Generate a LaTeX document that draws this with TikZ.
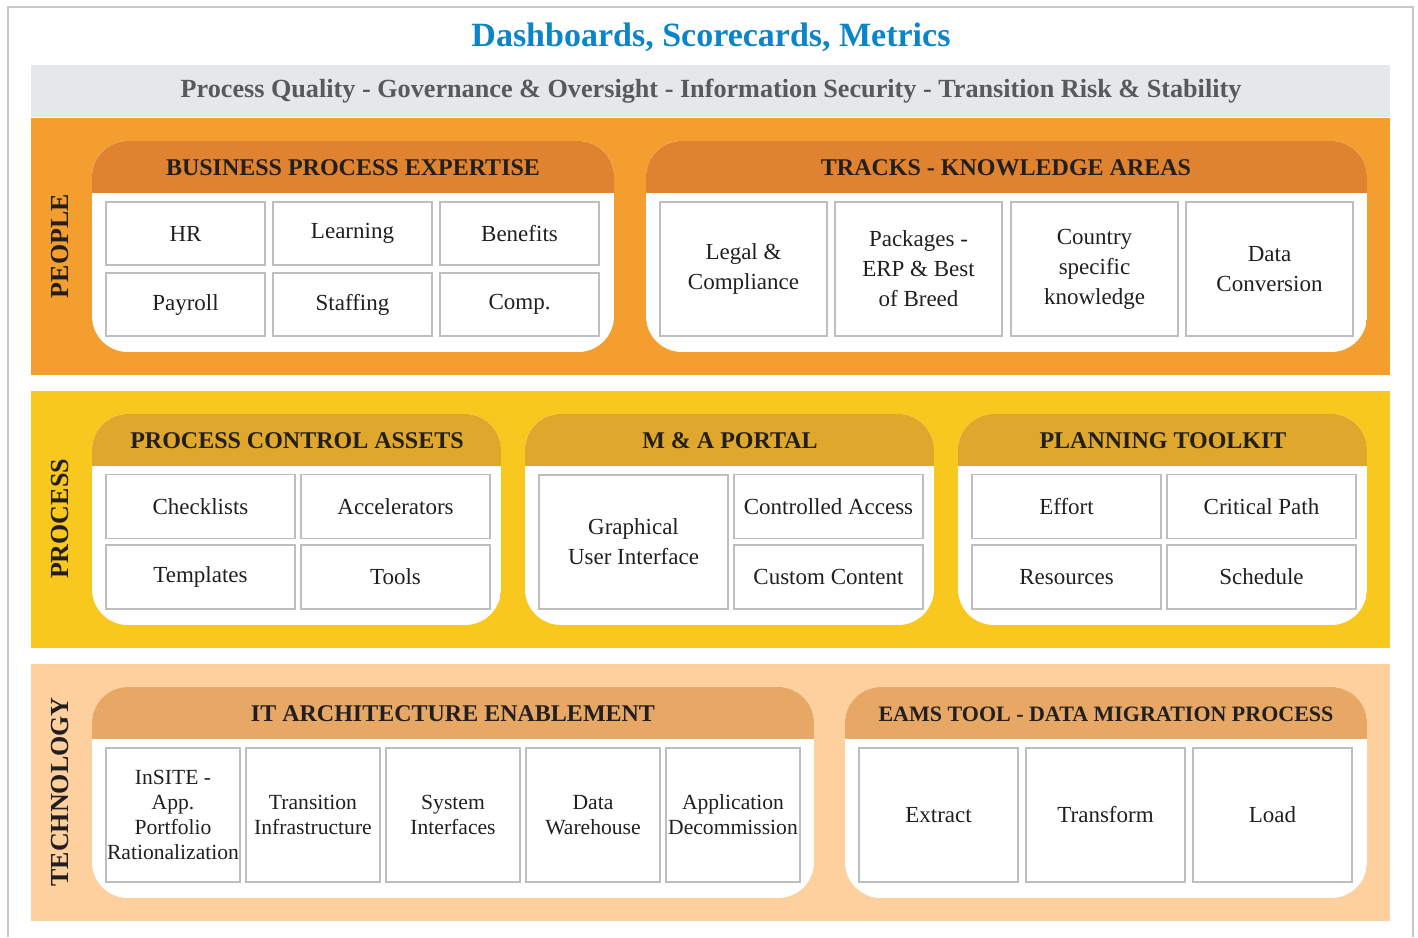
\documentclass[tikz,border=0pt]{standalone}
\usepackage{fontspec}
\setmainfont{Liberation Serif}
\usetikzlibrary{positioning}
\definecolor{titleblue}{RGB}{10,134,200}
\definecolor{bandgray}{RGB}{230,231,232}
\definecolor{bandtext}{RGB}{88,89,91}
\definecolor{inkdark}{RGB}{35,31,32}
\definecolor{framegray}{RGB}{200,200,200}
\definecolor{cellgray}{RGB}{190,190,190}
\definecolor{peoplebg}{RGB}{245,158,48}
\definecolor{peoplehd}{RGB}{224,131,48}
\definecolor{processbg}{RGB}{248,200,30}
\definecolor{processhd}{RGB}{223,168,44}
\definecolor{techbg}{RGB}{253,208,158}
\definecolor{techhd}{RGB}{230,168,100}
% white panel with a coloured header strip: x1 y1 x2 y2 yheader colour
\newcommand{\panelbox}[6]{%
  \begin{scope}
    \clip[rounded corners=18pt] (#1,#2) rectangle (#3,#4);
    \fill[white] (#1,#2) rectangle (#3,#4);
    \fill[#6] (#1,#2) rectangle (#3,#5);
  \end{scope}}

\begin{document}
\begin{tikzpicture}[
  x=0.5pt, y=-0.5pt, text=inkdark,
  sidelabel/.style={rotate=90, font=\fontsize{13}{15}\selectfont\bfseries},
  paneltitle/.style={font=\fontsize{12}{14}\selectfont\bfseries},
  cell/.style={rectangle, draw=cellgray, line width=0.75pt, fill=white, align=center, inner sep=0pt, font=\fontsize{11.5}{15}\selectfont},
  cellwide/.style={cell, minimum width=79.5pt, minimum height=31.5pt},
  celltall/.style={cell, minimum width=83.5pt, minimum height=67pt},
  cellpair/.style={cell, minimum width=94.5pt, minimum height=32pt},
  cellsq/.style={cell, minimum width=67pt, minimum height=67pt, font=\fontsize{10.8}{12.5}\selectfont},
  cellload/.style={cell, minimum width=79.5pt, minimum height=67pt}
]
\useasboundingbox (0,0) rectangle (1418,937);
\fill[white] (0,0) rectangle (1418,937);
\draw[framegray, line width=0.8pt] (8,937) -- (8,7) -- (1413,7) -- (1413,937);

% heading and common strip
\node[font=\fontsize{17}{20}\selectfont\bfseries, text=titleblue] (title) at (711,37.5) {Dashboards, Scorecards, Metrics};
\fill[bandgray] (31,65) rectangle (1390,117);
\node[font=\fontsize{13.1}{15}\selectfont\bfseries, text=bandtext] (strip) at (711,91)
  {Process Quality - Governance \& Oversight - Information Security - Transition Risk \& Stability};

% people
\fill[peoplebg] (31,118) rectangle (1390,375);
\node[sidelabel] (people) at (60,246) {PEOPLE};
\panelbox{92}{141}{614}{352}{193}{peoplehd}
\panelbox{646}{141}{1367}{352}{193}{peoplehd}
\node[paneltitle] (bpe) at (353,168) {BUSINESS PROCESS EXPERTISE};
\node[paneltitle] (tracks) at (1006,168) {TRACKS - KNOWLEDGE AREAS};
\node[cellwide] (hr) at (185.5,233.5) {HR};
\node[cellwide] (learning) at (352.5,233.5) {Learning};
\node[cellwide] (benefits) at (519.5,233.5) {Benefits};
\node[cellwide] (payroll) at (185.5,304.5) {Payroll};
\node[cellwide] (staffing) at (352.5,304.5) {Staffing};
\node[cellwide] (comp) at (519.5,304.5) {Comp.};
\node[celltall] (legal) at (743.5,269) {Legal \&\\Compliance};
\node[celltall] (packages) at (918.5,269) {Packages -\\ERP \& Best\\of Breed};
\node[celltall] (country) at (1094.5,269) {Country\\specific\\knowledge};
\node[celltall] (dataconv) at (1269.5,269) {Data\\Conversion};

% process
\fill[processbg] (31,391) rectangle (1390,648);
\node[sidelabel] (process) at (60,519) {PROCESS};
\panelbox{92}{414}{501}{625}{466}{processhd}
\panelbox{525}{414}{934}{625}{466}{processhd}
\panelbox{958}{414}{1367}{625}{466}{processhd}
\node[paneltitle] (pca) at (297,441) {PROCESS CONTROL ASSETS};
\node[paneltitle] (portal) at (730,441) {M \& A PORTAL};
\node[paneltitle] (planning) at (1163,441) {PLANNING TOOLKIT};
\node[cellpair] (checklists) at (200.5,506.5) {Checklists};
\node[cellpair] (accel) at (395.5,506.5) {Accelerators};
\node[cellpair] (templates) at (200.5,577) {Templates};
\node[cellpair] (tools) at (395.5,577) {Tools};
\node[cellpair, minimum height=67pt] (gui) at (633.5,542) {Graphical\\User Interface};
\node[cellpair] (access) at (828.5,506.5) {Controlled Access};
\node[cellpair] (custom) at (828.5,577) {Custom Content};
\node[cellpair] (effort) at (1066.5,506.5) {Effort};
\node[cellpair] (critpath) at (1261.5,506.5) {Critical Path};
\node[cellpair] (resources) at (1066.5,577) {Resources};
\node[cellpair] (schedule) at (1261.5,577) {Schedule};

% technology
\fill[techbg] (31,664) rectangle (1390,921);
\node[sidelabel] (technology) at (60,792) {TECHNOLOGY};
\panelbox{92}{687}{814}{898}{739}{techhd}
\panelbox{845}{687}{1367}{898}{739}{techhd}
\node[paneltitle] (itarch) at (453,714) {IT ARCHITECTURE ENABLEMENT};
\node[paneltitle, font=\fontsize{11}{13}\selectfont\bfseries] (eams) at (1106,714) {EAMS TOOL - DATA MIGRATION PROCESS};
\node[cellsq] (insite) at (173,815) {InSITE -\\App.\\Portfolio\\Rationalization};
\node[cellsq] (transinfra) at (313,815) {Transition\\Infrastructure};
\node[cellsq] (sysif) at (453,815) {System\\Interfaces};
\node[cellsq] (dwh) at (593,815) {Data\\Warehouse};
\node[cellsq] (decom) at (733,815) {Application\\Decommission};
\node[cellload] (extract) at (938.5,815) {Extract};
\node[cellload] (transform) at (1105.5,815) {Transform};
\node[cellload] (load) at (1272.5,815) {Load};
\end{tikzpicture}
\end{document}
